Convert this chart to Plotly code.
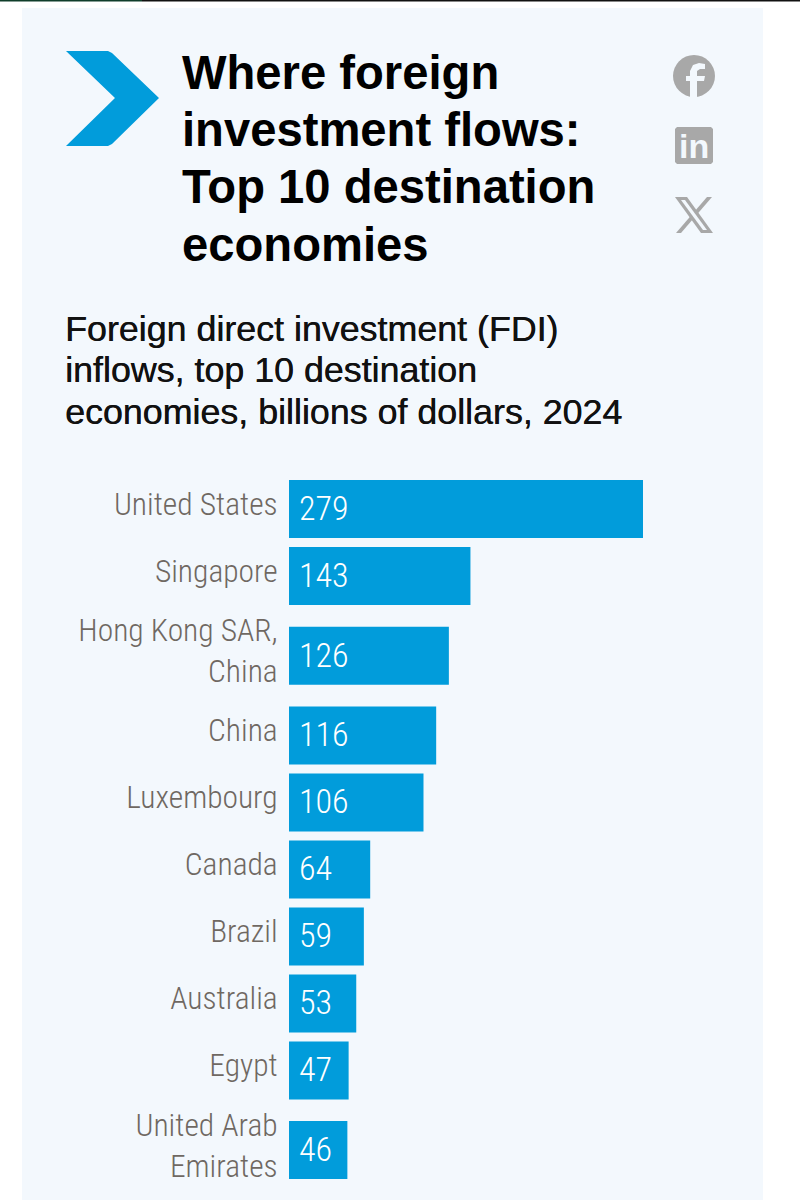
# -*- coding: utf-8 -*-
import plotly.graph_objects as go

# ===============================================================
# Data
# ===============================================================
countries = ["United States", "Singapore", "Hong Kong SAR,<br>China", "China", "Luxembourg",
             "Canada", "Brazil", "Australia", "Egypt", "United Arab<br>Emirates"]
inflows = [279, 143, 126, 116, 106, 64, 59, 53, 47, 46]
title_lines = ["Where foreign", "investment flows:", "Top 10 destination", "economies"]
subtitle_lines = ["Foreign direct investment (FDI)", "inflows, top 10 destination",
                  "economies, billions of dollars, 2024"]

BLUE = "#019cdb"
PANEL = "#f3f8fd"
GREY_TEXT = "#6f6862"
ICON = "#a8a8a8"
NARROW = "Roboto Condensed, Liberation Sans Narrow, DejaVu Sans Condensed"

# Page geometry, in pixels
W, H = 800, 1200
LEFT, RIGHT, TOP, BOTTOM = 289, 100, 470, 0
PX_PER_UNIT = 354 / 279


def px(x):
    return (x - LEFT) / (W - LEFT - RIGHT)


def py(y):
    return 1 - (y - TOP) / (H - TOP - BOTTOM)


def page_path(points):
    # points are page pixels, turned into paper coordinates for an svg path
    parts = []
    for cmd, x, y in points:
        parts.append(f"{cmd}{px(x):.5f},{py(y):.5f}")
    return " ".join(parts) + " Z"


def page_shape(points, color):
    return dict(type="path", xref="paper", yref="paper", layer="above", line_width=0,
                fillcolor=color, path=page_path(points))


def row_half(label):
    # two line labels need a taller row
    return 46.2 if "<br>" in label else 33.5


# Row centres follow from how many lines each label has
row_pos = []
pos = 0.0
for i, label in enumerate(countries):
    if i > 0:
        pos += row_half(countries[i - 1]) + row_half(label)
    row_pos.append(pos)

fig = go.Figure()
fig.add_trace(go.Bar(x=inflows, y=row_pos, orientation="h", width=58, marker_color=BLUE,
                     marker_line_width=0, hoverinfo="skip"))

# Value labels sit inside the bars
annotations = []
for value, y in zip(inflows, row_pos):
    annotations.append(dict(x=0, y=y, xref="x", yref="y", text=str(value), showarrow=False,
                            xanchor="left", yanchor="middle", xshift=8, yshift=1,
                            font=dict(family=NARROW, size=34, weight=300, color="white")))

# Title and subtitle
for i, line in enumerate(title_lines):
    annotations.append(dict(x=px(179.5), y=py(72.3 + i * 57.3), xref="paper", yref="paper", text=f"<b>{line}</b>",
                            showarrow=False, xanchor="left", yanchor="middle",
                            font=dict(family="Liberation Sans", size=47.2, color="black")))
for i, line in enumerate(subtitle_lines):
    annotations.append(dict(x=px(62.5), y=py(329 + i * 41.5), xref="paper", yref="paper", text=line,
                            showarrow=False, xanchor="left", yanchor="middle",
                            font=dict(family="Liberation Sans", size=35.8, color="#111111",
                                      shadow="0.4px 0 0 #111111")))

# LinkedIn glyph
annotations.append(dict(x=px(694), y=py(146), xref="paper", yref="paper", text="<b>in</b>", showarrow=False,
                        xanchor="center", yanchor="middle",
                        font=dict(family="Liberation Sans", size=34, color=PANEL)))

shapes = [
    # panel and the thin rule at the top of the page
    dict(type="rect", xref="paper", yref="paper", layer="below", line_width=0, fillcolor=PANEL,
         x0=px(22), x1=px(763), y0=py(8), y1=py(1200)),
    dict(type="rect", xref="paper", yref="paper", layer="below", line_width=0, fillcolor="#0f3d2a",
         x0=px(0), x1=px(142), y0=py(0), y1=py(1.5)),
    dict(type="rect", xref="paper", yref="paper", layer="below", line_width=0, fillcolor="#111111",
         x0=px(142), x1=px(800), y0=py(0), y1=py(1.5)),
    # chevron
    page_shape([("M", 66, 51), ("L", 108, 51), ("L", 112, 53), ("L", 159, 98), ("L", 112, 144),
                ("L", 108, 146), ("L", 66, 146), ("L", 115, 98)], BLUE),
    # facebook circle and f
    dict(type="circle", xref="paper", yref="paper", layer="above", line_width=0, fillcolor=ICON,
         x0=px(673), x1=px(715), y0=py(55), y1=py(97)),
    page_shape([("M", 690, 97), ("L", 690, 81), ("L", 686, 81), ("L", 686, 76), ("L", 690, 76),
                ("L", 690, 71), ("L", 693, 65), ("L", 699, 63), ("L", 705, 64), ("L", 705, 69),
                ("L", 700, 69), ("L", 697, 71), ("L", 697, 76), ("L", 705, 76), ("L", 704, 81),
                ("L", 697, 81), ("L", 697, 97)], PANEL),
    # linkedin square
    page_shape([("M", 677, 127), ("L", 711, 127), ("L", 713, 129), ("L", 713, 162), ("L", 711, 164),
                ("L", 677, 164), ("L", 675, 162), ("L", 675, 129)], ICON),
    # x logo, thin stroke first so the hollow of the thick one stays open
    page_shape([("M", 707, 197), ("L", 712, 197), ("L", 681, 233), ("L", 676, 233)], ICON),
    page_shape([("M", 675, 197), ("L", 687, 197), ("L", 713, 233), ("L", 701, 233)], ICON),
    page_shape([("M", 681, 200), ("L", 685, 200), ("L", 707, 230), ("L", 703, 230)], PANEL),
]

fig.update_layout(
    width=W, height=H, margin=dict(l=LEFT, r=RIGHT, t=TOP, b=BOTTOM, pad=0),
    paper_bgcolor="white", plot_bgcolor="rgba(0,0,0,0)", showlegend=False,
    shapes=shapes, annotations=annotations,
    xaxis=dict(range=[0, (W - LEFT - RIGHT) / PX_PER_UNIT], visible=False, fixedrange=True),
    yaxis=dict(range=[row_pos[0] - 39 + (H - TOP - BOTTOM), row_pos[0] - 39], tickmode="array",
               tickvals=row_pos, ticktext=countries, ticks="outside", ticklen=4, tickcolor="rgba(0,0,0,0)",
               ticklabelshift=5, showgrid=False, zeroline=False, showline=False, fixedrange=True,
               tickfont=dict(family=NARROW, size=31.5, weight=300, color=GREY_TEXT)),
)

fig.write_html("out.html", config={"displayModeBar": False},
               post_script="document.body.style.margin='0';")
